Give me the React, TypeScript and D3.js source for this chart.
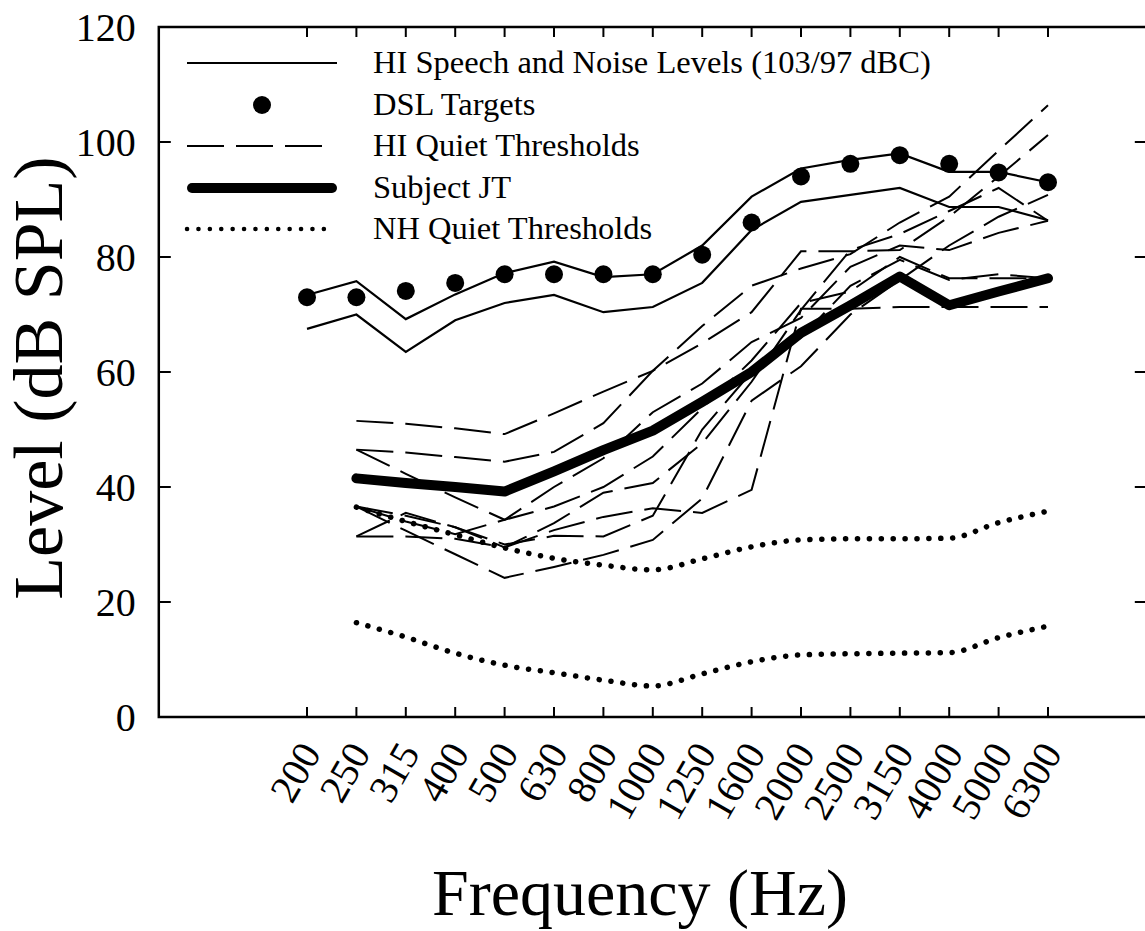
import React from "react";
import * as d3 from "d3";

const freqs = ["200","250","315","400","500","630","800","1000","1250","1600","2000","2500","3150","4000","5000","6300"];
const yTicks = [0, 20, 40, 60, 80, 100, 120];

type V = number | null;

const speechLevels: V[] = [73.4, 75.8, 69.2, 73.5, 77.2, 79.2, 76.5, 77.0, 82.0, 90.5, 95.4, 96.9, 98.0, 94.8, 94.8, 93.0];
const noiseLevels: V[] = [67.5, 70.0, 63.5, 69.0, 72.0, 73.4, 70.4, 71.3, 75.5, 84.7, 89.6, 90.8, 92.0, 88.7, 88.7, 86.4];
const dslTargets: V[] = [73.0, 73.0, 74.1, 75.5, 77.0, 77.0, 77.0, 77.0, 80.4, 86.0, 94.0, 96.2, 97.7, 96.2, 94.7, 93.0];
const subjectJT: V[] = [null, 41.5, 40.7, 40.0, 39.2, 42.7, 46.4, 49.8, 54.8, 60.0, 66.8, 71.6, 76.6, 71.6, 74.0, 76.3];
const nhUpper: V[] = [null, 36.5, 34.0, 31.7, 29.4, 27.6, 26.4, 25.6, 27.5, 29.6, 30.8, 31.0, 31.0, 31.1, 33.8, 35.8];
const nhLower: V[] = [null, 16.4, 13.9, 11.1, 9.0, 7.7, 6.4, 5.4, 7.5, 9.6, 10.8, 11.0, 11.1, 11.2, 13.8, 15.8];

const hi1: V[] = [null, 51.5, 51.0, 50.2, 49.2, 52.8, 56.6, 60.2, 68.0, 75.0, 78.0, 80.5, 86.0, 90.5, 98.5, 106.4];
const hi2: V[] = [null, 46.5, 46.0, 45.2, 44.4, 46.1, 51.1, 60.2, 65.0, 70.4, 81.0, 81.0, 81.2, 87.0, 94.0, 101.2];
const hi3: V[] = [null, 46.5, 42.3, 38.2, 34.3, 40.0, 45.0, 53.0, 58.0, 65.2, 69.4, 78.3, 82.0, 81.2, 84.2, 86.3];
const hi4: V[] = [null, 36.6, 34.0, 31.8, 34.3, 36.6, 40.0, 45.3, 53.7, 62.0, 72.0, 74.0, 80.0, 76.3, 76.3, 76.3];
const hi5: V[] = [null, 36.6, 32.4, 28.3, 24.2, 26.1, 28.2, 30.8, 38.0, 55.0, 61.0, 70.0, 76.0, 82.0, 87.0, 90.8];
const hi6: V[] = [null, 31.4, 31.4, 31.0, 29.5, 32.5, 34.8, 36.3, 35.5, 39.5, 71.0, 71.0, 71.3, 71.3, 71.3, 71.3];
const hi7: V[] = [null, 31.4, 35.5, 33.0, 29.5, 33.7, 39.0, 40.7, 47.6, 58.3, 70.8, 81.2, 84.0, 88.0, 92.0, 86.3];
const hi8: V[] = [null, 36.6, 35.0, 33.0, 30.0, 31.5, 31.4, 35.0, 50.0, 60.0, 66.0, 75.0, 79.5, 76.0, 77.0, 76.3];
const hiQuiet = [hi1, hi2, hi3, hi4, hi5, hi6, hi7, hi8];

const legendLabels = [
  "HI Speech and Noise Levels (103/97 dBC)",
  "DSL Targets",
  "HI Quiet Thresholds",
  "Subject JT",
  "NH Quiet Thresholds",
];

const FONT = "'Liberation Serif', 'Times New Roman', Times, serif";

export default function App() {
  const W = 1145, H = 931;
  const x = d3.scalePoint<string>().domain(freqs).range([307, 1048]);
  const step = x.step();
  const left = x("200")! - 3 * step;
  const right = x("6300")! + 2 * step;
  const y = d3.scaleLinear().domain([0, 120]).range([717, 27]);
  const top = y(120), bottom = y(0);

  const mk = (vals: V[], curve: d3.CurveFactory = d3.curveLinear) =>
    d3.line<V>()
      .defined((d) => d !== null)
      .x((_, i) => x(freqs[i])!)
      .y((d) => y(d as number))
      .curve(curve)(vals) || "";

  const legY = [63, 105, 146, 188, 229];
  const lx0 = 187, lx1 = 337, ltx = 373;

  return (
    <svg width={W} height={H} style={{ position: "absolute", left: 0, top: 0, background: "#fff" }}
      fontFamily={FONT}>
      <rect x={0} y={0} width={W} height={H} fill="#fff" />
      {/* frame */}
      <rect x={left} y={top} width={right - left} height={bottom - top} fill="none" stroke="#000" strokeWidth={2.5} />
      {/* y ticks left & right */}
      {yTicks.map((t) => (
        <g key={"yt" + t}>
          <line x1={left} x2={left + 12} y1={y(t)} y2={y(t)} stroke="#000" strokeWidth={2} />
          <line x1={right - 12} x2={right} y1={y(t)} y2={y(t)} stroke="#000" strokeWidth={2} />
          <text x={left - 23} y={y(t) + 13.5} textAnchor="end" fontSize={40}>{t}</text>
        </g>
      ))}
      {/* x ticks top & bottom */}
      {freqs.map((f) => (
        <g key={"xt" + f}>
          <line x1={x(f)} x2={x(f)} y1={bottom} y2={bottom - 10} stroke="#000" strokeWidth={2} />
          <line x1={x(f)} x2={x(f)} y1={top} y2={top + 10} stroke="#000" strokeWidth={2} />
          <text transform={`translate(${x(f)! + 15},753) rotate(-60)`} textAnchor="end" fontSize={40}>{f}</text>
        </g>
      ))}
      {/* axis titles */}
      <text transform="translate(62,378) rotate(-90)" textAnchor="middle" fontSize={70}>Level (dB SPL)</text>
      <text x={640} y={915} textAnchor="middle" fontSize={66}>Frequency (Hz)</text>

      {/* data: NH thresholds */}
      {[nhUpper, nhLower].map((s, i) => (
        <path key={"nh" + i} d={mk(s, d3.curveMonotoneX)} fill="none" stroke="#000" strokeWidth={5.5}
          strokeDasharray="0.1 11.8" strokeLinecap="round" />
      ))}
      {/* HI quiet thresholds */}
      {hiQuiet.map((s, i) => (
        <path key={"hi" + i} d={mk(s)} fill="none" stroke="#000" strokeWidth={2} strokeDasharray="37 12" />
      ))}
      {/* speech & noise */}
      {[speechLevels, noiseLevels].map((s, i) => (
        <path key={"sp" + i} d={mk(s)} fill="none" stroke="#000" strokeWidth={2.2} />
      ))}
      {/* DSL targets */}
      {dslTargets.map((d, i) => d === null ? null : (
        <circle key={"dsl" + i} cx={x(freqs[i])} cy={y(d)} r={9} fill="#000" />
      ))}
      {/* Subject JT */}
      <path d={mk(subjectJT)} fill="none" stroke="#000" strokeWidth={10} strokeLinejoin="round" strokeLinecap="round" />

      {/* legend */}
      <line x1={lx0} x2={lx1} y1={legY[0]} y2={legY[0]} stroke="#000" strokeWidth={2.2} />
      <circle cx={(lx0 + lx1) / 2} cy={legY[1]} r={9} fill="#000" />
      <line x1={lx0} x2={323} y1={legY[2]} y2={legY[2]} stroke="#000" strokeWidth={2} strokeDasharray="37 12" />
      <line x1={lx0 + 5} x2={lx1 - 5} y1={legY[3]} y2={legY[3]} stroke="#000" strokeWidth={10} strokeLinecap="round" />
      <line x1={lx0} x2={334} y1={legY[4]} y2={legY[4]} stroke="#000" strokeWidth={4.5}
        strokeDasharray="0.1 11.3" strokeLinecap="round" />
      {legendLabels.map((t, i) => (
        <text key={"lg" + i} x={ltx} y={legY[i] + 10} fontSize={32.5}>{t}</text>
      ))}
    </svg>
  );
}
